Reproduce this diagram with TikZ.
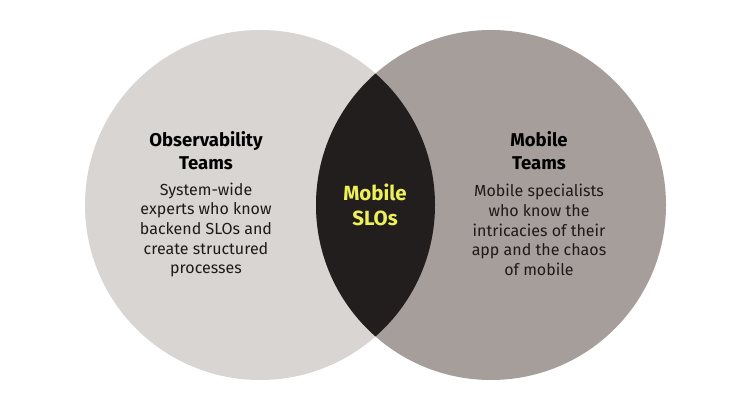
\documentclass[tikz,border=0pt]{standalone}
\usepackage{fontspec}
\setmainfont{Fira Sans}
\definecolor{obsgray}{HTML}{D8D5D3}
\definecolor{mobgray}{HTML}{A59E9A}
\definecolor{lensdark}{HTML}{221E1E}
\definecolor{sloyellow}{HTML}{EEF05A}
\definecolor{bodyink}{HTML}{1E1A1A}
\tikzset{
  heading/.style={align=center, inner sep=0pt, font=\fontsize{18.5}{23}\selectfont\bfseries, text=black},
  bodytext/.style={align=center, inner sep=0pt, font=\fontsize{16}{19.6}\selectfont, text=bodyink},
}
\begin{document}
\begin{tikzpicture}[x=1pt, y=-1pt]
    % Page
    \fill[white] (0,0) rectangle (749,401);
    \useasboundingbox (0,0) rectangle (749,401);

    % Circles
    \fill[obsgray] (260,205) circle [radius=175pt];
    \fill[mobgray] (491,205) circle [radius=175pt];

    % Overlap of the two circles
    \begin{scope}
        \clip (260,205) circle [radius=175pt];
        \fill[lensdark] (491,205) circle [radius=175pt];
    \end{scope}

    % Left circle
    \node[heading] (obshead) at (206,151) {Observability\\Teams};
    \node[bodytext] (obsbody) at (206,230) {System-wide\\experts who know\\backend SLOs and\\create structured\\processes};

    % Right circle
    \node[heading] (mobhead) at (539,151) {Mobile\\Teams};
    \node[bodytext] (mobbody) at (539,230) {Mobile specialists\\who know the\\intricacies of their\\app and the chaos\\of mobile};

    % Overlap label
    \node[heading, font=\fontsize{20.5}{25}\selectfont\bfseries, text=sloyellow] (slos) at (375,205) {Mobile\\SLOs};
\end{tikzpicture}
\end{document}
